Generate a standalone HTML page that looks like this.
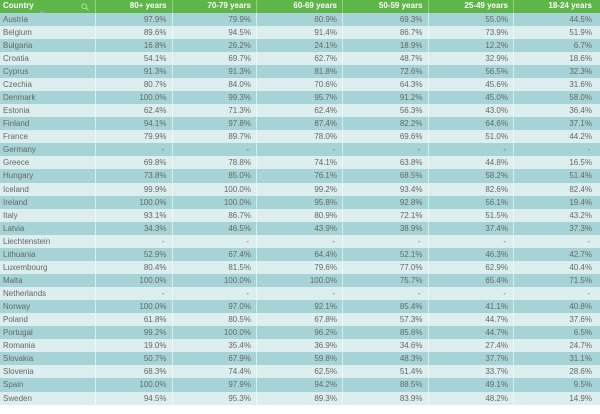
<!DOCTYPE html>
<html><head><meta charset="utf-8">
<style>
*{margin:0;padding:0;box-sizing:border-box}
html,body{width:600px;height:414px;background:#fff;overflow:hidden}
body{font-family:"Liberation Sans",Arial,sans-serif;font-size:8px;color:#666;position:relative}
.r{display:grid;grid-template-columns:95px 76.5px 84.5px 86px 85.5px 85.5px 87px;height:13.07px;line-height:13.07px;width:600px}
.r div{text-align:right;padding-right:5px;border-left:1px solid rgba(255,255,255,0.55);white-space:nowrap;overflow:hidden}
.r div:first-child{text-align:left;padding-left:3px;border-left:none}
.r div:last-child{padding-right:8px}
.n div{padding-right:7px}
.n div:last-child{padding-right:10px}
.h{height:12.7px;line-height:12.7px;background:#5db647;color:#fff;font-weight:bold}
.h div{border-left:1px solid rgba(255,255,255,0.35)}
.d{background:#a6d4d6}
.l{background:#ddeeee}
.tri{position:absolute;left:39px;top:10px;width:0;height:0;border-left:3px solid transparent;border-right:3px solid transparent;border-bottom:3px solid #8aa9aa}
.mag{position:absolute;left:81px;top:3px}
</style></head><body>
<div class="r h"><div>Country</div><div>80+ years</div><div>70-79 years</div><div>60-69 years</div><div>50-59 years</div><div>25-49 years</div><div>18-24 years</div></div>
<div class="r d"><div>Austria</div><div>97.9%</div><div>79.9%</div><div>80.9%</div><div>69.3%</div><div>55.0%</div><div>44.5%</div></div>
<div class="r l"><div>Belgium</div><div>89.6%</div><div>94.5%</div><div>91.4%</div><div>86.7%</div><div>73.9%</div><div>51.9%</div></div>
<div class="r d"><div>Bulgaria</div><div>16.8%</div><div>26.2%</div><div>24.1%</div><div>18.9%</div><div>12.2%</div><div>6.7%</div></div>
<div class="r l"><div>Croatia</div><div>54.1%</div><div>69.7%</div><div>62.7%</div><div>48.7%</div><div>32.9%</div><div>18.6%</div></div>
<div class="r d"><div>Cyprus</div><div>91.3%</div><div>91.3%</div><div>81.8%</div><div>72.6%</div><div>56.5%</div><div>32.3%</div></div>
<div class="r l"><div>Czechia</div><div>80.7%</div><div>84.0%</div><div>70.6%</div><div>64.3%</div><div>45.6%</div><div>31.6%</div></div>
<div class="r d"><div>Denmark</div><div>100.0%</div><div>99.3%</div><div>95.7%</div><div>91.2%</div><div>45.0%</div><div>58.0%</div></div>
<div class="r l"><div>Estonia</div><div>62.4%</div><div>71.3%</div><div>62.4%</div><div>56.3%</div><div>43.0%</div><div>36.4%</div></div>
<div class="r d"><div>Finland</div><div>94.1%</div><div>97.8%</div><div>87.4%</div><div>82.2%</div><div>64.6%</div><div>37.1%</div></div>
<div class="r l"><div>France</div><div>79.9%</div><div>89.7%</div><div>78.0%</div><div>69.6%</div><div>51.0%</div><div>44.2%</div></div>
<div class="r d n"><div>Germany</div><div>-</div><div>-</div><div>-</div><div>-</div><div>-</div><div>-</div></div>
<div class="r l"><div>Greece</div><div>69.8%</div><div>78.8%</div><div>74.1%</div><div>63.8%</div><div>44.8%</div><div>16.5%</div></div>
<div class="r d"><div>Hungary</div><div>73.8%</div><div>85.0%</div><div>76.1%</div><div>68.5%</div><div>58.2%</div><div>51.4%</div></div>
<div class="r l"><div>Iceland</div><div>99.9%</div><div>100.0%</div><div>99.2%</div><div>93.4%</div><div>82.6%</div><div>82.4%</div></div>
<div class="r d"><div>Ireland</div><div>100.0%</div><div>100.0%</div><div>95.8%</div><div>92.8%</div><div>56.1%</div><div>19.4%</div></div>
<div class="r l"><div>Italy</div><div>93.1%</div><div>86.7%</div><div>80.9%</div><div>72.1%</div><div>51.5%</div><div>43.2%</div></div>
<div class="r d"><div>Latvia</div><div>34.3%</div><div>46.5%</div><div>43.9%</div><div>38.9%</div><div>37.4%</div><div>37.3%</div></div>
<div class="r l n"><div>Liechtenstein</div><div>-</div><div>-</div><div>-</div><div>-</div><div>-</div><div>-</div></div>
<div class="r d"><div>Lithuania</div><div>52.9%</div><div>67.4%</div><div>64.4%</div><div>52.1%</div><div>46.3%</div><div>42.7%</div></div>
<div class="r l"><div>Luxembourg</div><div>80.4%</div><div>81.5%</div><div>79.6%</div><div>77.0%</div><div>62.9%</div><div>40.4%</div></div>
<div class="r d"><div>Malta</div><div>100.0%</div><div>100.0%</div><div>100.0%</div><div>75.7%</div><div>65.4%</div><div>71.5%</div></div>
<div class="r l n"><div>Netherlands</div><div>-</div><div>-</div><div>-</div><div>-</div><div>-</div><div>-</div></div>
<div class="r d"><div>Norway</div><div>100.0%</div><div>97.0%</div><div>92.1%</div><div>85.4%</div><div>41.1%</div><div>40.8%</div></div>
<div class="r l"><div>Poland</div><div>61.8%</div><div>80.5%</div><div>67.8%</div><div>57.3%</div><div>44.7%</div><div>37.6%</div></div>
<div class="r d"><div>Portugal</div><div>99.2%</div><div>100.0%</div><div>96.2%</div><div>85.6%</div><div>44.7%</div><div>6.5%</div></div>
<div class="r l"><div>Romania</div><div>19.0%</div><div>35.4%</div><div>36.9%</div><div>34.6%</div><div>27.4%</div><div>24.7%</div></div>
<div class="r d"><div>Slovakia</div><div>50.7%</div><div>67.9%</div><div>59.8%</div><div>48.3%</div><div>37.7%</div><div>31.1%</div></div>
<div class="r l"><div>Slovenia</div><div>68.3%</div><div>74.4%</div><div>62.5%</div><div>51.4%</div><div>33.7%</div><div>28.6%</div></div>
<div class="r d"><div>Spain</div><div>100.0%</div><div>97.9%</div><div>94.2%</div><div>88.5%</div><div>49.1%</div><div>9.5%</div></div>
<div class="r l"><div>Sweden</div><div>94.5%</div><div>95.3%</div><div>89.3%</div><div>83.9%</div><div>48.2%</div><div>14.9%</div></div>
<div class="tri"></div>
<svg class="mag" width="8" height="8" viewBox="0 0 8 8"><circle cx="3.2" cy="3.2" r="2.4" fill="none" stroke="#b5e2a8" stroke-width="0.9"/><line x1="5" y1="5" x2="7.4" y2="7.4" stroke="#b5e2a8" stroke-width="1"/></svg>
</body></html>
